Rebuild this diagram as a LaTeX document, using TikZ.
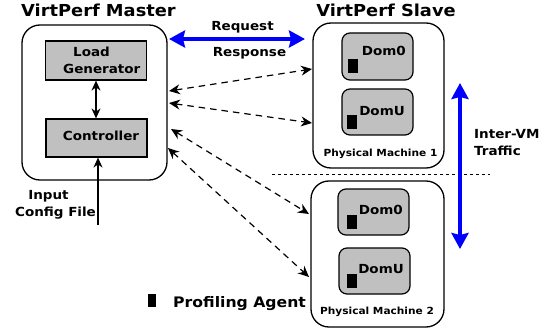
\documentclass[tikz,border=0pt]{standalone}
\usepackage{fontspec}
\setmainfont{DejaVu Sans}[FakeStretch=1.08]
\usetikzlibrary{arrows.meta}
\definecolor{boxgray}{HTML}{C0C0C0}
\definecolor{linkblue}{HTML}{0000FF}

\begin{document}
\begin{tikzpicture}[x=1pt,y=-1pt,
  outerbox/.style={draw=black, line width=1.3pt, rounded corners=18pt, inner sep=0pt},
  module/.style={draw=black, fill=boxgray, line width=1.2pt, inner sep=0pt},
  vmbox/.style={draw=black, fill=boxgray, line width=1.2pt, rounded corners=8pt, inner sep=0pt},
  agent/.style={fill=black, inner sep=0pt, minimum width=10pt, minimum height=14pt},
  lbl/.style={font=\fontsize{12.5}{14}\selectfont\bfseries, inner sep=0pt, anchor=base},
  small/.style={font=\fontsize{9.8}{11}\selectfont\bfseries, inner sep=0pt, anchor=base},
  title/.style={font=\fontsize{16.5}{18}\selectfont\bfseries, inner sep=0pt, anchor=base},
  legendtxt/.style={font=\fontsize{14.5}{16}\selectfont\bfseries, inner sep=0pt, anchor=base west},
  ctrlarrow/.style={line width=1.2pt, {Stealth[length=10pt,width=9pt]}-{Stealth[length=10pt,width=9pt]}},
  inarrow/.style={line width=1.2pt, -{Stealth[length=10pt,width=9pt]}},
  msg/.style={line width=1.2pt, dash pattern=on 6.5pt off 5pt, {Stealth[length=11pt,width=10pt]}-{Stealth[length=11pt,width=10pt]}},
  bluearrow/.style={draw=linkblue, line width=#1, {Stealth[length=16pt,width=17pt,inset=2pt]}-{Stealth[length=16pt,width=17pt,inset=2pt]}},
  divider/.style={line width=1pt, dash pattern=on 3pt off 3pt}
]
\useasboundingbox (0,0) rectangle (547,329);

% ---------------- master side ----------------
\node[title] (mtitle) at (98.5,17) {VirtPerf Master};
\node[outerbox, minimum width=145pt, minimum height=155pt] (master) at (94.5,102.5) {};
\node[module, minimum width=101pt, minimum height=39pt] (loadgen) at (96,60.5) {};
\node[module, minimum width=101pt, minimum height=38pt] (ctrl) at (96.5,138) {};
\node[lbl, anchor=base west] (loadtxt) at (73,57) {Load};
\node[lbl, anchor=base west] (gentxt) at (63,74) {Generator};
\node[lbl] (ctrltxt) at (101,140) {Controller};
\draw[ctrlarrow] (loadgen.south) -- (loadgen.south |- ctrl.north);

\coordinate (input) at (98,225);
\draw[inarrow] (input) -- (input |- ctrl.south);
\node[lbl] (inptxt) at (48.5,199) {Input};
\node[lbl] (cfgtxt) at (55.5,216) {Config File};

% ---------------- slave side ----------------
\node[title] (stitle) at (386,17) {VirtPerf Slave};

\node[outerbox, minimum width=131pt, minimum height=145pt] (pm1) at (378.5,95.5) {};
\node[vmbox, minimum width=71pt, minimum height=47pt] (pm1dom0) at (377.5,56.5) {};
\node[vmbox, minimum width=71pt, minimum height=46pt] (pm1domu) at (377.5,112) {};
\node[lbl, anchor=base east] at (406,56) {Dom0};
\node[lbl, anchor=base east] at (405,116) {DomU};
\node[agent] (ag1) at (353,66.5) {};
\node[agent] (ag2) at (352,122) {};
\node[small] (pm1txt) at (380.5,157) {Physical Machine 1};

\node[outerbox, minimum width=133pt, minimum height=146pt] (pm2) at (377.5,254) {};
\node[vmbox, minimum width=71pt, minimum height=46pt] (pm2dom0) at (373.5,212) {};
\node[vmbox, minimum width=71pt, minimum height=46pt] (pm2domu) at (374.5,271) {};
\node[lbl, anchor=base east] at (403,214) {Dom0};
\node[lbl, anchor=base east] at (404,273) {DomU};
\node[agent] (ag3) at (351.5,222) {};
\node[agent] (ag4) at (351.5,280.5) {};
\node[small] (pm2txt) at (377,314) {Physical Machine 2};

% dotted separator between the two physical machines
\coordinate (sepL) at (272,174);
\coordinate (sepR) at (490,174);
\draw[divider] (sepL) -- (sepR);

% ---------------- request / response ----------------
\coordinate (reqL) at (169,39);
\coordinate (reqR) at (305,39);
\draw[bluearrow=4.5pt] (reqL) -- (reqR);
\node[lbl] (reqtxt) at (242.5,31) {Request};
\node[lbl] (restxt) at (249.5,57) {Response};

% ---------------- inter-VM traffic ----------------
\coordinate (vmT) at (460,83);
\coordinate (vmB) at (460,249);
\draw[bluearrow=3.5pt] (vmT) -- (vmB);
\node[lbl, anchor=base west] (vmtxt1) at (474,139) {Inter-VM};
\node[lbl, anchor=base west] (vmtxt2) at (474,155) {Traffic};

% ---------------- profiling links ----------------
\coordinate (m1) at (169,91);
\coordinate (m2) at (169,103);
\coordinate (m3) at (171,129);
\coordinate (m4) at (168,148);
\coordinate (s1) at (312,69);
\coordinate (s2) at (312,123);
\coordinate (s3) at (309,214);
\coordinate (s4) at (309,277);
\draw[msg] (m1) -- (s1);
\draw[msg] (m2) -- (s2);
\draw[msg] (m3) -- (s3);
\draw[msg] (m4) -- (s4);

% ---------------- legend ----------------
\node[agent, minimum width=8pt, minimum height=13pt] (legag) at (151.5,300.5) {};
\node[legendtxt] (legtxt) at (173,307.5) {Profiling Agent};
\end{tikzpicture}
\end{document}
